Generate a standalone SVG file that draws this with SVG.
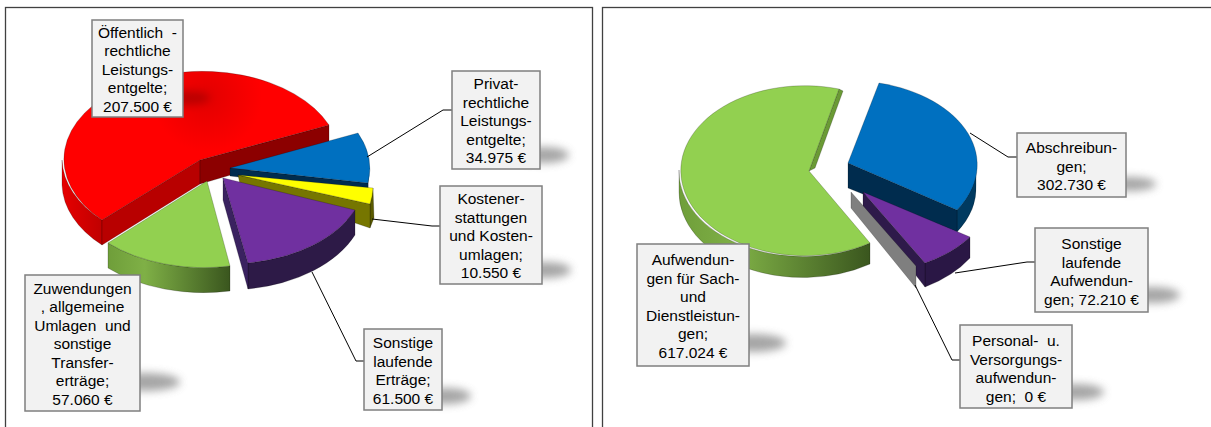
<svg xmlns="http://www.w3.org/2000/svg" width="1211" height="427" viewBox="0 0 1211 427">
<defs>
<style>
.frame{fill:#fff;stroke:#404040;stroke-width:1.3}
.box{fill:#f2f2f2;stroke:#7f7f7f;stroke-width:1.5}
.lbl{font-family:"Liberation Sans",Arial,sans-serif;font-size:15.5px;fill:#000;text-anchor:middle}
.lead{fill:none;stroke:#000;stroke-width:1}
.shadow{fill:#8f8f8f;opacity:0.8;filter:url(#blur)}
.edge{stroke:#000;stroke-opacity:0.35;stroke-width:0.6;stroke-linejoin:round}
</style>
<filter id="blur" x="-50%" y="-100%" width="200%" height="300%"><feGaussianBlur stdDeviation="4.5"/></filter>
<linearGradient id="gWallL" x1="0" y1="0" x2="1" y2="0"><stop offset="0" stop-color="#6f9e3a"/><stop offset="0.3" stop-color="#7fb046"/><stop offset="1" stop-color="#3a561e"/></linearGradient>
<linearGradient id="rWall" x1="0" y1="0" x2="1" y2="0"><stop offset="0" stop-color="#e60000"/><stop offset="1" stop-color="#c00000"/></linearGradient>
<radialGradient id="rTop" cx="207" cy="97" r="55" gradientUnits="userSpaceOnUse"><stop offset="0" stop-color="#e20000"/><stop offset="1" stop-color="#ff0000"/></radialGradient>
</defs>

<rect class="frame" x="5.5" y="7.5" width="587" height="440"/>
<rect class="frame" x="602.5" y="7.5" width="630" height="440"/>

<g id="slice-oeffentlich">
<path class="edge" fill="url(#rWall)" d="M62,160 A138,88 0 0 0 102,220 L102,245 A138,88 0 0 1 62,185 Z"/>
<path class="edge" fill="#b80000" d="M102,220 L200,160 L200,184 L102,245 Z"/>
<path class="edge" fill="#8c0000" d="M200,160 L329,125 L329,146 L200,184 Z"/>
<path class="edge" fill="url(#rTop)" d="M200,160 L329,125 A138,88 0 1 0 102,220 Z"/>
</g>
<g id="slice-privat">
<path class="edge" fill="#003a60" d="M368,166 A138,88 0 0 1 368,183 L368,191 L368,174 Z"/>
<path class="edge" fill="#002c4e" d="M230,168 L368,183 L368,192 L230,176 Z"/>
<path class="edge" fill="#0070c0" d="M230,168 L358,133 A138,88 0 0 1 368,183 Z"/>
</g>
<g id="slice-kosten">
<path class="edge" fill="#5a5a00" d="M370,204 L373,188 L374,218 L370,228 Z"/>
<path class="edge" fill="#767600" d="M238,175 L370,204 L370,228 L240,184 Z"/>
<path class="edge" fill="#ffff00" d="M238,175 L373,188 A138,88 0 0 1 370,204 Z"/>
</g>
<g id="slice-zuwendungen">
<path class="edge" fill="url(#gWallL)" d="M108,243 A138,88 0 0 0 230,266 L230,291 A138,88 0 0 1 108,268 Z"/>
<path class="edge" fill="#92d050" d="M207,181 L108,243 A138,88 0 0 0 230,266 Z"/>
</g>
<g id="slice-sonstige-ertraege">
<path class="edge" fill="#2d1a47" d="M355,210 A138,88 0 0 1 248,263 L248,289 A138,88 0 0 0 355,235 Z"/>
<path class="edge" fill="#3a2260" d="M223,178 L248,263 L248,289 L223,200 Z"/>
<path class="edge" fill="#7030a0" d="M223,178 L355,210 A138,88 0 0 1 248,263 Z"/>
</g>

<g id="slice-sach">
<path class="edge" fill="url(#gWallL)" d="M679,170 A124,85 0 0 0 870,243 L870,264 A124,85 0 0 1 679,192 Z"/>
<path class="edge" fill="#6a9a35" d="M839,89 L843,91 L815,168 L809,171 Z"/>
<path class="edge" fill="#92d050" d="M809,171 L870,243 A124,85 0 1 1 839,89 Z"/>
</g>
<g id="slice-abschreibungen">
<path class="edge" fill="#003a60" d="M976,163 A128,84 0 0 1 957,210 L957,232 A128,84 0 0 0 976,185 Z"/>
<path class="edge" fill="#002c4e" d="M848,163 L957,210 L957,232 L848,188 Z"/>
<path class="edge" fill="#0070c0" d="M848,163 L879,83 A128,84 0 0 1 957,210 Z"/>
</g>
<g id="slice-sonstige-aufwendungen">
<path class="edge" fill="#2a1745" d="M970,237 A128,84 0 0 1 925,263 L925,287 A128,84 0 0 0 970,258 Z"/>
<path class="edge" fill="#2e1a4a" d="M863,192 L925,263 L925,287 L863,207 Z"/>
<path class="edge" fill="#7030a0" d="M863,192 L970,237 A128,84 0 0 1 925,263 Z"/>
</g>
<g id="slice-personal">
<path class="edge" fill="#7f7f7f" d="M851,192 L916,266 L916,288 L851,208 Z"/>
</g>

<g id="connectors">
<path class="lead" d="M367,157 L443,110 L452,110"/>
<path class="lead" d="M372,219 L432,226 L440,226"/>
<path class="lead" d="M312,272 L356,361 L364,361"/>
<path class="lead" d="M970,133 L1008,157 L1017,157"/>
<path class="lead" d="M955,273 L1027,262 L1035,262"/>
<path class="lead" d="M915,285 L952,360 L960,360"/>
</g>

<g id="label-oeffentlich">
<ellipse class="shadow" cx="185" cy="98" rx="24" ry="7" style="fill:#600000;opacity:0.35"/>
<rect class="box" x="92" y="20" width="91" height="97"/>
<text class="lbl" xml:space="preserve"><tspan x="137.5" y="37.5">Öffentlich  -</tspan><tspan x="137.5" y="56">rechtliche</tspan><tspan x="137.5" y="74.5">Leistungs-</tspan><tspan x="137.5" y="93">entgelte;</tspan><tspan x="137.5" y="111.5">207.500 €</tspan></text>
</g>
<g id="label-privat">
<ellipse class="shadow" cx="543" cy="155" rx="26" ry="8"/>
<rect class="box" x="452" y="71" width="88" height="98"/>
<text class="lbl"><tspan x="496" y="89">Privat-</tspan><tspan x="496" y="107.5">rechtliche</tspan><tspan x="496" y="126">Leistungs-</tspan><tspan x="496" y="144.5">entgelte;</tspan><tspan x="496" y="163">34.975 €</tspan></text>
</g>
<g id="label-kosten">
<ellipse class="shadow" cx="545" cy="270" rx="26" ry="8"/>
<rect class="box" x="440" y="186" width="102" height="98"/>
<text class="lbl"><tspan x="491" y="204">Kostener-</tspan><tspan x="491" y="222.5">stattungen</tspan><tspan x="491" y="241">und Kosten-</tspan><tspan x="491" y="259.5">umlagen;</tspan><tspan x="491" y="278">10.550 €</tspan></text>
</g>
<g id="label-sonstige-ertraege">
<ellipse class="shadow" cx="445" cy="396" rx="26" ry="8"/>
<rect class="box" x="364" y="329" width="78" height="81"/>
<text class="lbl"><tspan x="403" y="348">Sonstige</tspan><tspan x="403" y="366.5">laufende</tspan><tspan x="403" y="385">Erträge;</tspan><tspan x="403" y="403.5">61.500 €</tspan></text>
</g>
<g id="label-zuwendungen">
<ellipse class="shadow" cx="146" cy="382" rx="34" ry="9"/>
<rect class="box" x="25" y="275" width="115" height="136"/>
<text class="lbl" xml:space="preserve"><tspan x="82.5" y="293.5">Zuwendungen</tspan><tspan x="82.5" y="312">, allgemeine</tspan><tspan x="82.5" y="330.5">Umlagen  und</tspan><tspan x="82.5" y="349">sonstige</tspan><tspan x="82.5" y="367.5">Transfer-</tspan><tspan x="82.5" y="386">erträge;</tspan><tspan x="82.5" y="404.5">57.060 €</tspan></text>
</g>

<g id="label-sach">
<ellipse class="shadow" cx="754" cy="343" rx="32" ry="9"/>
<rect class="box" x="637" y="244" width="112" height="122"/>
<text class="lbl"><tspan x="693" y="265">Aufwendun-</tspan><tspan x="693" y="283.5">gen für Sach-</tspan><tspan x="693" y="302">und</tspan><tspan x="693" y="320.5">Dienstleistun-</tspan><tspan x="693" y="339">gen;</tspan><tspan x="693" y="357.5">617.024 €</tspan></text>
</g>
<g id="label-abschreibungen">
<ellipse class="shadow" cx="1130" cy="184" rx="26" ry="7"/>
<rect class="box" x="1017" y="133" width="109" height="64"/>
<text class="lbl"><tspan x="1071.5" y="153">Abschreibun-</tspan><tspan x="1071.5" y="171.5">gen;</tspan><tspan x="1071.5" y="190">302.730 €</tspan></text>
</g>
<g id="label-sonstige-aufwendungen">
<ellipse class="shadow" cx="1152" cy="295" rx="28" ry="8"/>
<rect class="box" x="1035" y="228" width="113" height="84"/>
<text class="lbl"><tspan x="1091.5" y="249">Sonstige</tspan><tspan x="1091.5" y="267.5">laufende</tspan><tspan x="1091.5" y="286">Aufwendun-</tspan><tspan x="1091.5" y="304.5">gen; 72.210 €</tspan></text>
</g>
<g id="label-personal">
<ellipse class="shadow" cx="1076" cy="392" rx="28" ry="8"/>
<rect class="box" x="960" y="325" width="112" height="83"/>
<text class="lbl" xml:space="preserve"><tspan x="1016" y="346">Personal-  u.</tspan><tspan x="1016" y="364.5">Versorgungs-</tspan><tspan x="1016" y="383">aufwendun-</tspan><tspan x="1016" y="401.5">gen;  0 €</tspan></text>
</g>
</svg>
